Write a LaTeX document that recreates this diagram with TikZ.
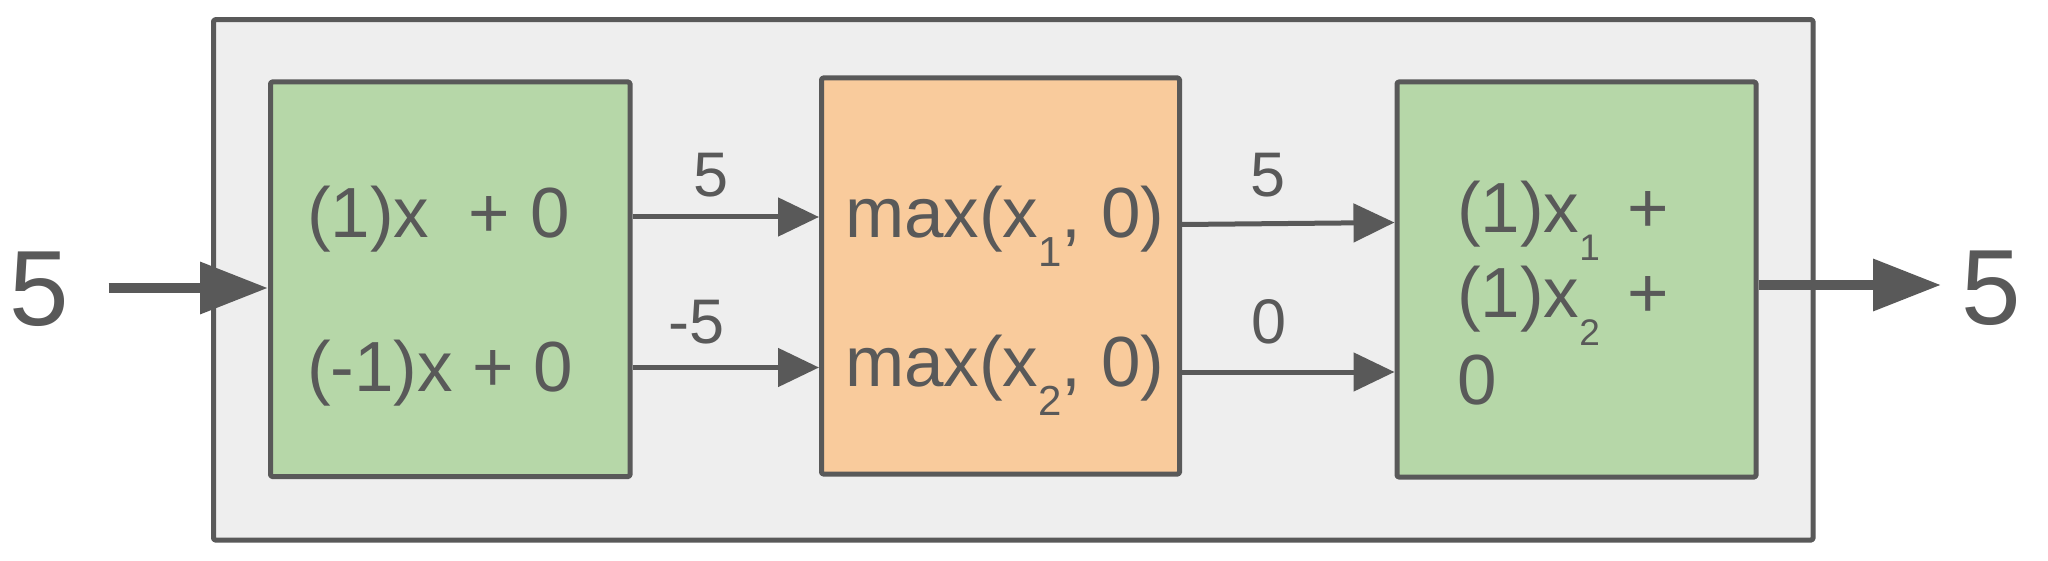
\documentclass[tikz,border=0pt]{standalone}
\usepackage{fontspec}
\setmainfont{Liberation Sans}
\usetikzlibrary{arrows.meta}
\definecolor{lc}{HTML}{595959}
\definecolor{gfill}{HTML}{B6D7A8}
\definecolor{ofill}{HTML}{F9CB9C}
\definecolor{bgfill}{HTML}{EEEEEE}
\newcommand{\subx}[3]{{\fontsize{#1pt}{#1pt}\selectfont\raisebox{-#2pt}{#3}}}
\tikzset{
  boxshape/.style={draw=lc, line width=5pt, rounded corners=1.5pt, line join=round, inner sep=0pt},
  outerbox/.style={draw=lc, line width=5pt, rounded corners=1.5pt, line join=round, fill=bgfill, inner sep=0pt},
  boxtxt/.style={text=lc, inner sep=0pt, anchor=base west, font=\fontsize{71pt}{85pt}\selectfont},
  edgelbl/.style={text=lc, inner sep=0pt, anchor=base, font=\fontsize{63pt}{63pt}\selectfont},
  bigtxt/.style={text=lc, inner sep=0pt, anchor=base, font=\fontsize{107pt}{107pt}\selectfont},
  thinarrow/.style={draw=lc, line width=5pt, -{Triangle[length=41pt, width=38pt]}},
  thickarrow/.style={draw=lc, line width=10pt, -{Triangle[length=68pt, width=50pt]}}
}
\begin{document}
\begin{tikzpicture}[x=1pt, y=-1pt]
\fill[white] (0,0) rectangle (2048,561);
\useasboundingbox (0,0) rectangle (2048,561);

% outer container
\node[outerbox, minimum width=1599.5pt, minimum height=520.3pt] (outer) at (1013.25,279.85) {};

% boxes
\node[boxshape, fill=gfill, minimum width=359.5pt, minimum height=394.5pt] (g1) at (450.25,279.25) {};
\node[boxshape, fill=ofill, minimum width=358pt, minimum height=396pt] (relu) at (1000.5,276) {};
\node[boxshape, fill=gfill, minimum width=359pt, minimum height=395pt] (g2) at (1576.5,279.5) {};

% box texts
\node[boxtxt] (g1a) at (307,238) {(1)x\ \ + 0};
\node[boxtxt] (g1b) at (307,391.5) {(-1)x + 0};
\node[boxtxt] (ra) at (845,238) {max(x\subx{42}{28.5}{1}, 0)};
\node[boxtxt] (rb) at (845,386.5) {max(x\subx{42}{28.5}{2}, 0)};
\node[boxtxt] (g2a) at (1457,232.5) {(1)x\subx{37}{28}{1}\hspace{27pt}+};
\node[boxtxt] (g2b) at (1457,317.5) {(1)x\subx{37}{28}{2}\hspace{27pt}+};
\node[boxtxt] (g2c) at (1457,404) {0};

% input / output values
\node[bigtxt] (inval) at (39,326) {5};
\node[bigtxt] (outval) at (1991,324) {5};

% helper coordinates
\coordinate (instart) at (108.5,288);
\coordinate (outtip) at (1941,285);
\coordinate (ya) at (0,217);
\coordinate (yb) at (0,367.5);
\coordinate (yc) at (0,224.5);
\coordinate (yd) at (0,222.5);
\coordinate (ye) at (0,372);

% connectors
\draw[thickarrow] (instart) -- (instart -| g1.west);
\draw[thinarrow] (g1.east |- ya) -- (relu.west |- ya);
\draw[thinarrow] (g1.east |- yb) -- (relu.west |- yb);
\draw[thinarrow] (relu.east |- yc) -- (g2.west |- yd);
\draw[thinarrow] (relu.east |- ye) -- (g2.west |- ye);
\draw[thickarrow] (g2.east |- outtip) -- (outtip);

% edge labels
\node[edgelbl] (l1) at (711,197) {5};
\node[edgelbl] (l2) at (697,343) {-5};
\node[edgelbl] (l3) at (1268,197) {5};
\node[edgelbl] (l4) at (1269,344) {0};
\end{tikzpicture}
\end{document}
